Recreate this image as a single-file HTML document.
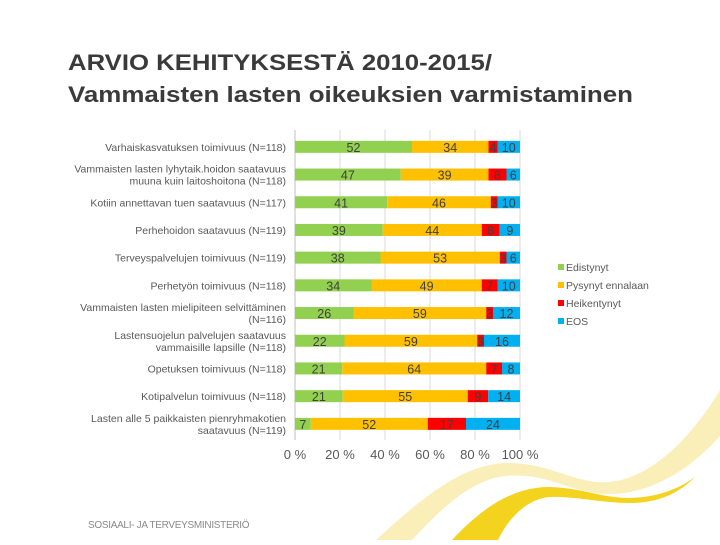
<!DOCTYPE html>
<html><head><meta charset="utf-8">
<style>
body{margin:0;background:#fff;width:720px;height:540px;overflow:hidden;font-family:"Liberation Sans",sans-serif}
</style></head>
<body>
<svg width="720" height="540" viewBox="0 0 720 540">
<text x="68" y="70" font-size="22" font-weight="bold" fill="#3a3a3a" textLength="424" lengthAdjust="spacingAndGlyphs">ARVIO KEHITYKSESTÄ 2010-2015/</text>
<text x="68" y="102" font-size="22" font-weight="bold" fill="#3a3a3a" textLength="565" lengthAdjust="spacingAndGlyphs">Vammaisten lasten oikeuksien varmistaminen</text>
<path d="M376,540 C420,500 460,465 505,463 C550,462 575,485 610,482 C650,478 690,440 720,390 L720,436 C690,470 650,494 610,494 C570,494 550,472 505,476 C470,480 440,510 412,540 Z" fill="#faeeb9"/>
<path d="M452,540 C480,510 510,488 547,487 C580,487 600,498 630,498 C660,497 680,488 695,477 C680,492 660,503 630,503 C600,503 575,496 550,497 C530,498 510,515 498,540 Z" fill="#f4d31f"/>
<text x="88" y="528" font-size="10" fill="#8a8a8a" letter-spacing="-0.3">SOSIAALI- JA TERVEYSMINISTERIÖ</text>
<g id="chart"></g>
</svg>
<script>
const categories=[["Varhaiskasvatuksen toimivuus (N=118)"],["Vammaisten lasten lyhytaik.hoidon saatavuus","muuna kuin laitoshoitona (N=118)"],["Kotiin annettavan tuen saatavuus (N=117)"],["Perhehoidon saatavuus (N=119)"],["Terveyspalvelujen toimivuus (N=119)"],["Perhetyön  toimivuus (N=118)"],["Vammaisten lasten mielipiteen selvittäminen","(N=116)"],["Lastensuojelun palvelujen saatavuus","vammaisille lapsille (N=118)"],["Opetuksen toimivuus (N=118)"],["Kotipalvelun toimivuus (N=118)"],["Lasten alle 5 paikkaisten pienryhmakotien","saatavuus (N=119)"]];
const edistynyt=[52,47,41,39,38,34,26,22,21,21,7];
const pysynyt=[34,39,46,44,53,49,59,59,64,55,52];
const heikentynyt=[4,8,3,8,3,7,3,3,7,9,17];
const eos=[10,6,10,9,6,10,12,16,8,14,24];
const seriesNames=["Edistynyt","Pysynyt ennalaan","Heikentynyt","EOS"];
const seriesColors=["#92d050","#ffc000","#ff0000","#00b0f0"];
const ticks=[0,20,40,60,80,100];
const NS="http://www.w3.org/2000/svg";
const g=document.getElementById('chart');
const x0=295,x1=520,yTop=133,step=27.7,bh=12;
const xs=v=>x0+(x1-x0)*v/100;
const yc=i=>yTop+step*(i+0.5);
function el(t,a){const e=document.createElementNS(NS,t);for(const k in a)e.setAttribute(k,a[k]);g.appendChild(e);return e;}
ticks.forEach((t,i)=>{
  const l=el('line',{x1:xs(t),x2:xs(t),y1:130,y2:440,stroke:i==0?'#bfbfbf':'#d9d9d9','stroke-width':1});
  
  
  const tx=el('text',{x:xs(t),y:459,'font-size':13,fill:'#595959','text-anchor':'middle'});
  tx.textContent=t+' %';
  
  
});
const series=[edistynyt,pysynyt,heikentynyt,eos];
categories.forEach((c,i)=>{
  const y=yc(i);
  c.forEach((line,j)=>{
    const t=el('text',{x:286,y:y+4+(j-(c.length-1)/2)*12,'font-size':10.5,fill:'#595959','text-anchor':'end'});
    t.textContent=line;
    
    
  });
  const total=series.reduce((s,a)=>s+a[i],0);
  let acc=0;
  series.forEach((a,k)=>{
    const v=a[i]/total*100;
    const r=el('rect',{x:xs(acc),y:y-bh/2,width:xs(acc+v)-xs(acc),height:bh,fill:seriesColors[k]});
    
    
    const t=el('text',{x:(xs(acc)+xs(acc+v))/2,y:y+5,'font-size':12.5,fill:'#404040','text-anchor':'middle'});
    t.textContent=a[i];
    
    
    acc+=v;
  });
});
seriesNames.forEach((n,k)=>{
  const y=268+k*18;
  const r=el('rect',{x:558,y:y-4,width:6,height:6,fill:seriesColors[k]});
  
  
  const t=el('text',{x:566,y:y+3,'font-size':10.5,fill:'#595959'});
  t.textContent=n;
  
  
});
</script>
</body></html>
